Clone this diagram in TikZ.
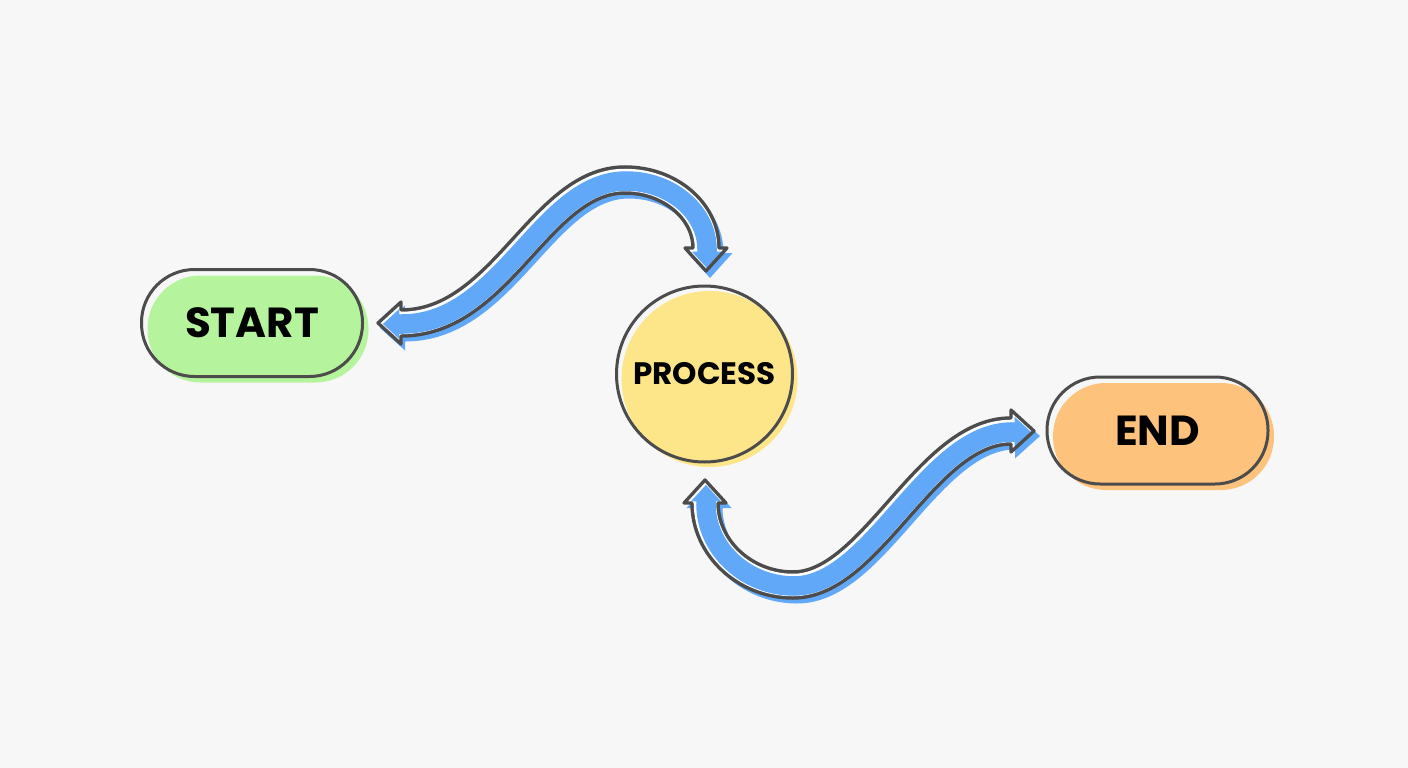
\documentclass[tikz,border=0pt]{standalone}
\usepackage{fontspec}
\setmainfont{Poppins}
\usetikzlibrary{shadows}
\definecolor{bg}{HTML}{F7F7F7}
\definecolor{ink}{HTML}{4C4C4C}
\definecolor{startfill}{HTML}{B5F39C}
\definecolor{procfill}{HTML}{FDE68A}
\definecolor{endfill}{HTML}{FDC37D}
\definecolor{arrowblue}{HTML}{62A8F8}
\tikzset{
  pill/.style={draw=ink, line width=3pt, rectangle, rounded corners=53pt,
    minimum width=221pt, minimum height=107pt, inner sep=0pt,
    font=\bfseries\fontsize{42}{50}\selectfont, text=black},
  ball/.style={draw=ink, line width=3pt, circle, minimum size=176pt, inner sep=0pt,
    font=\bfseries\fontsize{31}{37}\selectfont, text=black},
  bandshadow/.style={arrowblue, line width=27pt, transform canvas={shift={(4,5)}}},
  bandout/.style={ink, line width=29.5pt},
  bandwhite/.style={white, line width=22.5pt},
  bandblue/.style={arrowblue, line width=19.5pt, transform canvas={shift={(1,1)}}},
  headout/.style={ink, line width=3.3pt, line cap=round, line join=round}
}
\newcommand\hdshadow[2]{\fill[arrowblue, transform canvas={shift={(4,5)}}, shift={(#1)}, rotate=#2]
  (-1,-13.5) -- (0,-13.5) -- (0,-22.5) -- (25,0) -- (0,22.5) -- (0,13.5) -- (-1,13.5) -- cycle;}
\newcommand\hdwhite[2]{\fill[white, shift={(#1)}, rotate=#2]
  (-1.5,-11.2) -- (0,-11.2) -- (0,-21) -- (23,0) -- (0,21) -- (0,11.2) -- (-1.5,11.2) -- cycle;}
\newcommand\hdblue[2]{\fill[arrowblue, transform canvas={shift={(1,1)}}, shift={(#1)}, rotate=#2]
  (-1.5,-9.75) -- (2.6,-9.75) -- (2.6,-15.1) -- (19.1,0) -- (2.6,15.1) -- (2.6,9.75) -- (-1.5,9.75) -- cycle;}
\newcommand\hdline[2]{\draw[headout, shift={(#1)}, rotate=#2]
  (0,-13) -- (0,-21) -- (23,0) -- (0,21) -- (0,13);}
\begin{document}
\begin{tikzpicture}[x=1pt,y=-1pt]
\fill[bg] (0,0) rectangle (1408,768);
\useasboundingbox (0,0) rectangle (1408,768);

\node[pill, general shadow={fill=startfill, shadow xshift=6pt, shadow yshift=-6pt}] (start) at (252,323) {START};
\node[ball, general shadow={fill=procfill, shadow xshift=5pt, shadow yshift=-5pt}] (process) at (704.5,374) {PROCESS};
\node[pill, general shadow={fill=endfill, shadow xshift=6pt, shadow yshift=-6pt}] (end) at (1157.5,430.5) {END};

% top arrow: START <- ... -> PROCESS
\coordinate (a1) at (401,323);
\coordinate (a1c1) at (502,323);
\coordinate (a1c2) at (540,180);
\coordinate (a1m) at (625,180);
\coordinate (a1c3) at (670,180);
\coordinate (a1c4) at (706,211);
\coordinate (a1e) at (706,248);
% bottom arrow: PROCESS <- ... -> END
\coordinate (b1) at (705,503);
\coordinate (b1c1) at (705,548);
\coordinate (b1c2) at (745,585);
\coordinate (b1m) at (793,585);
\coordinate (b1c3) at (872,585);
\coordinate (b1c4) at (926,431);
\coordinate (b1e) at (1011,431);

\def\pathA{(a1) .. controls (a1c1) and (a1c2) .. (a1m) .. controls (a1c3) and (a1c4) .. (a1e)}
\def\pathB{(b1) .. controls (b1c1) and (b1c2) .. (b1m) .. controls (b1c3) and (b1c4) .. (b1e)}

% layer 1: blue offset shadow
\draw[bandshadow] \pathA;
\draw[bandshadow] \pathB;
\hdshadow{a1}{180}\hdshadow{a1e}{-90}\hdshadow{b1}{90}\hdshadow{b1e}{0}
% layer 2: dark outline band
\draw[bandout] \pathA;
\draw[bandout] \pathB;
% layer 3: white interior
\draw[bandwhite] \pathA;
\draw[bandwhite] \pathB;
\hdwhite{a1}{180}\hdwhite{a1e}{-90}\hdwhite{b1}{90}\hdwhite{b1e}{0}
% layer 4: blue interior
\draw[bandblue] \pathA;
\draw[bandblue] \pathB;
\hdblue{a1}{180}\hdblue{a1e}{-90}\hdblue{b1}{90}\hdblue{b1e}{0}
% layer 5: head outlines
\hdline{a1}{180}\hdline{a1e}{-90}\hdline{b1}{90}\hdline{b1e}{0}
\end{tikzpicture}
\end{document}
